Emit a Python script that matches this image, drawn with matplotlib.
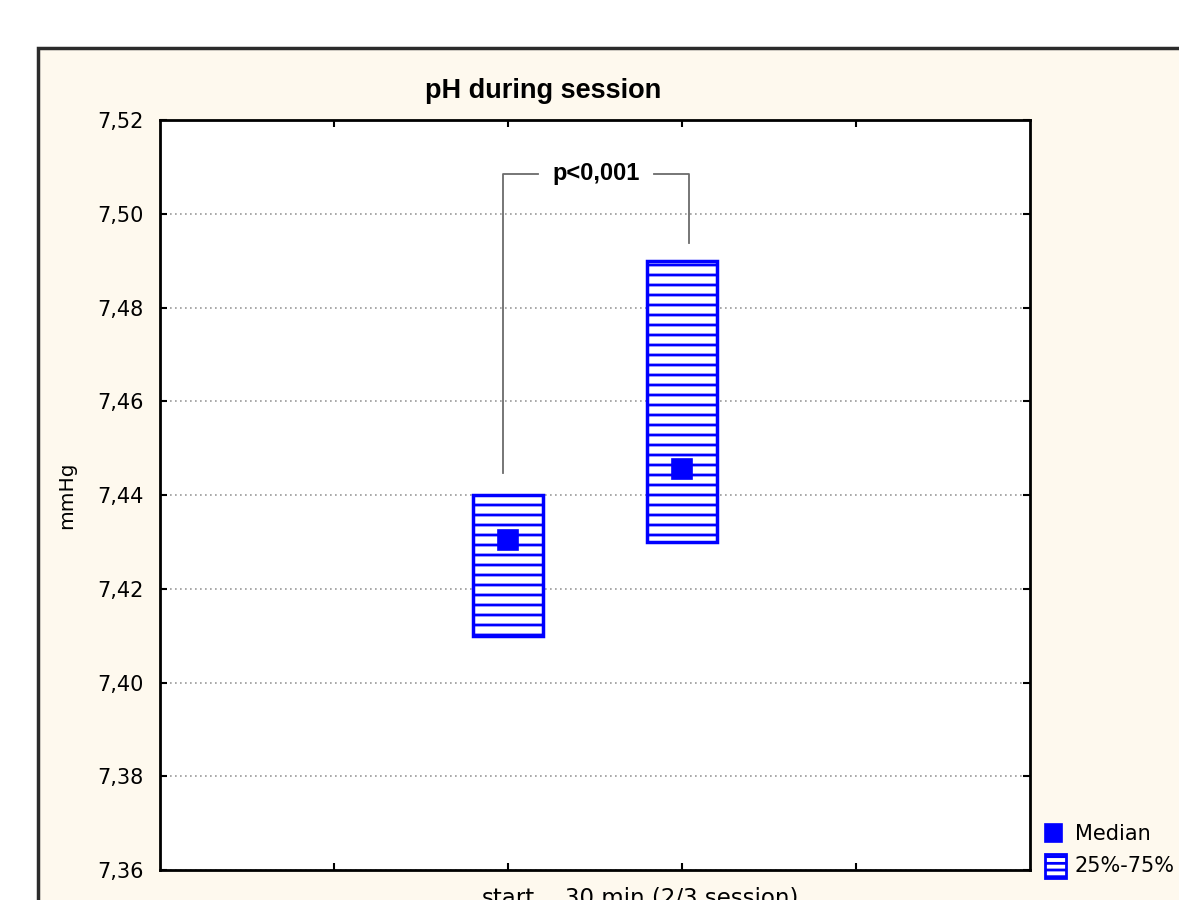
import matplotlib
matplotlib.use('Agg')
import matplotlib.pyplot as plt
from matplotlib.patches import Rectangle
import numpy as np

# data
categories = ['start', '30 min (2/3 session)']
cat_pos = [2, 3]
q25 = [7.41, 7.43]
q75 = [7.44, 7.49]
medians = [7.4305, 7.4455]
p_text = 'p<0,001'

# bracket for the significance label (data units)
bracket_x = [1.97, 3.04]
bracket_low = [7.4448, 7.4938]
bracket_top = 7.5085

yticks = np.arange(7.36, 7.5201, 0.02)

BLUE = '#0000ff'
CREAM = '#fef9ee'
narrow = ['Liberation Sans Narrow', 'Liberation Sans', 'DejaVu Sans']

# dpi 120 so that the '--' hatch gives ~10 px line spacing
DPI = 120
S = 100 / DPI  # sizes below were tuned at 100 dpi

plt.rcParams['hatch.linewidth'] = 2.0 * S
plt.rcParams['hatch.color'] = BLUE

fig = plt.figure(figsize=(1179 / DPI, 900 / DPI), dpi=DPI, facecolor='white')

# cream panel with dark frame that runs off the right / bottom edge
fig.patches.append(Rectangle((38 / 1179, -0.1), 1.2, 1.1 - 48 / 900,
                             transform=fig.transFigure, facecolor=CREAM,
                             edgecolor='#2b2b2b', linewidth=2.5 * S, zorder=-5))

ax = fig.add_axes([160 / 1179, 30 / 900, 870 / 1179, 750 / 900])
ax.set_zorder(1)
ax.set_facecolor('white')
ax.set_xlim(0, 5)
ax.set_ylim(7.36, 7.52)

ax.set_yticks(yticks)
ax.set_yticklabels([f'{v:.2f}'.replace('.', ',') for v in yticks])
ax.set_xticks([1, 2, 3, 4])
ax.set_xticklabels(['', categories[0], categories[1], ''])
ax.tick_params(direction='in', length=5 * S, width=1.5 * S, top=True, right=True,
               labelsize=15 * S, pad=12 * S)
ax.tick_params(axis='x', labelsize=16.5 * S)
for s in ax.spines.values():
    s.set_linewidth(2 * S)
ax.yaxis.grid(True, linestyle=(0, (1, 2)), color='#9a9a9a', linewidth=1.2 * S)
ax.set_axisbelow(True)

# interquartile boxes
w = 0.4
for x, lo, hi in zip(cat_pos, q25, q75):
    ax.add_patch(Rectangle((x - w / 2, lo), w, hi - lo, facecolor='white',
                           edgecolor=BLUE, hatch='--', linewidth=2.5 * S, zorder=3))
ax.plot(cat_pos, medians, 's', color=BLUE, markersize=15 * S, zorder=4)

# significance bracket
gc = '#6b6b6b'
ax.plot([bracket_x[0], bracket_x[0], bracket_x[0] + 0.2],
        [bracket_low[0], bracket_top, bracket_top], color=gc, lw=1.3 * S, zorder=2)
ax.plot([bracket_x[1] - 0.2, bracket_x[1], bracket_x[1]],
        [bracket_top, bracket_top, bracket_low[1]], color=gc, lw=1.3 * S, zorder=2)
ax.text(sum(bracket_x) / 2, bracket_top, p_text, ha='center', va='center',
        fontsize=17 * S, fontweight='bold', family=narrow)

ax.set_title('pH during session', fontsize=19.5 * S, fontweight='bold',
             family=narrow, pad=16 * S, x=0.44)
ax.set_ylabel('mmHg', fontsize=14.5 * S)
ax.yaxis.set_label_coords(-0.096, 0.5)

# legend drawn by hand at bottom right, partly off the figure
fig.patches.append(Rectangle((1045 / 1179, 1 - 842 / 900), 17 / 1179, 18 / 900,
                             transform=fig.transFigure, facecolor=BLUE,
                             edgecolor=BLUE, zorder=5))
fig.patches.append(Rectangle((1045 / 1179, 1 - 878 / 900), 21 / 1179, 24 / 900,
                             transform=fig.transFigure, facecolor='white',
                             edgecolor=BLUE, hatch='---', linewidth=2 * S, zorder=5))
fig.text(1075 / 1179, 1 - 834 / 900, 'Median', fontsize=15 * S, va='center')
fig.text(1075 / 1179, 1 - 866 / 900, '25%-75%', fontsize=15 * S, va='center')

fig.savefig('out.png', dpi=DPI, facecolor=fig.get_facecolor())
